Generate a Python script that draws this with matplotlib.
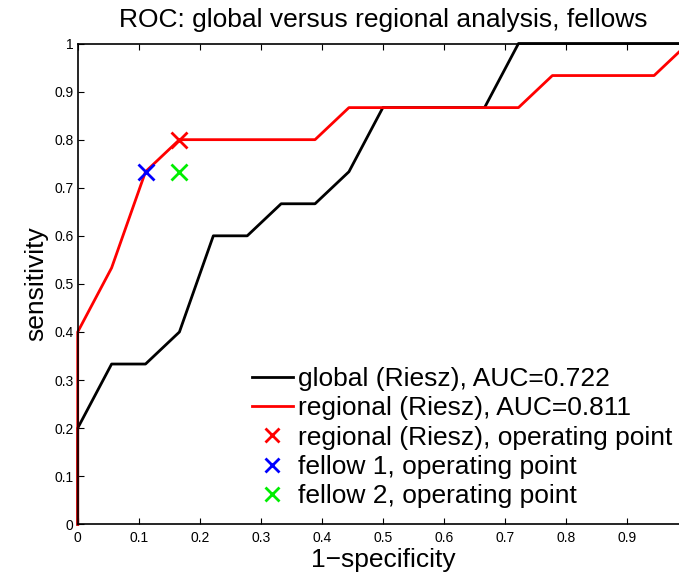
import matplotlib
matplotlib.use("Agg")
import matplotlib.pyplot as plt
import numpy as np

plt.rcParams['font.family'] = ['Liberation Sans', 'DejaVu Sans']

# Data (fractions of 18 negatives / 15 positives)
global_fpr = [0, 0, 1/18, 2/18, 3/18, 4/18, 5/18, 6/18, 7/18, 8/18, 9/18, 12/18, 13/18, 1.0]
global_tpr = [0, 3/15, 5/15, 5/15, 6/15, 9/15, 9/15, 10/15, 10/15, 11/15, 13/15, 13/15, 1.0, 1.0]
regional_fpr = [0, 0, 1/18, 2/18, 3/18, 7/18, 8/18, 13/18, 14/18, 17/18, 1.0]
regional_tpr = [0, 6/15, 8/15, 11/15, 12/15, 12/15, 13/15, 13/15, 14/15, 14/15, 1.0]
op_regional = (3/18, 12/15)
op_fellow1 = (2/18, 11/15)
op_fellow2 = (3/18, 11/15)

labels = ["global (Riesz), AUC=0.722", "regional (Riesz), AUC=0.811",
          "regional (Riesz), operating point", "fellow 1, operating point",
          "fellow 2, operating point"]

W, H = 679, 573
fig = plt.figure(figsize=(W/100, H/100), dpi=100)
left, right = 77.7/W, 688/W
bottom, top = (H-524.3)/H, (H-43.5)/H
ax = fig.add_axes([left, bottom, right-left, top-bottom])

ax.plot(global_fpr, global_tpr, color='black', lw=2, label=labels[0], clip_on=False)
ax.plot(regional_fpr, regional_tpr, color='red', lw=2, label=labels[1], clip_on=False)
ms = 11
ax.plot(*op_regional, 'x', color='red', ms=ms, mew=2, label=labels[2], linestyle='none')
ax.plot(*op_fellow1, 'x', color='blue', ms=ms, mew=2, label=labels[3], linestyle='none')
ax.plot(*op_fellow2, 'x', color='#00ee00', ms=ms, mew=2, label=labels[4], linestyle='none')

ax.set_xlim(0, 1)
ax.set_ylim(0, 1)
ax.set_xticks(np.arange(0, 1.0, 0.1))
ax.set_xticklabels(['0'] + [f'{v:.1f}' for v in np.arange(0.1, 0.95, 0.1)])
ax.set_yticks(np.arange(0, 1.01, 0.1))
ax.set_yticklabels(['0'] + [f'{v:.1f}' for v in np.arange(0.1, 0.95, 0.1)] + ['1'])
ax.tick_params(direction='in', top=True, right=True, labelsize=10, length=4, width=0.8)
ax.tick_params(axis='x', pad=5)
ax.tick_params(axis='y', pad=3)
for s in ax.spines.values():
    s.set_linewidth(1.2)

ax.set_title("ROC: global versus regional analysis, fellows", fontsize=19, pad=12)
ax.set_xlabel("1\u2212specificity", fontsize=19, labelpad=2)
ax.set_ylabel("sensitivity", fontsize=19, labelpad=4)

leg = ax.legend(loc='upper left', bbox_to_anchor=(252/W, (H-367)/H), bbox_transform=fig.transFigure,
                frameon=False, fontsize=19, borderpad=0, borderaxespad=0,
                handlelength=1.55, handletextpad=0.2, labelspacing=0.2, markerscale=0.9)

fig.savefig("out.png", dpi=100)
